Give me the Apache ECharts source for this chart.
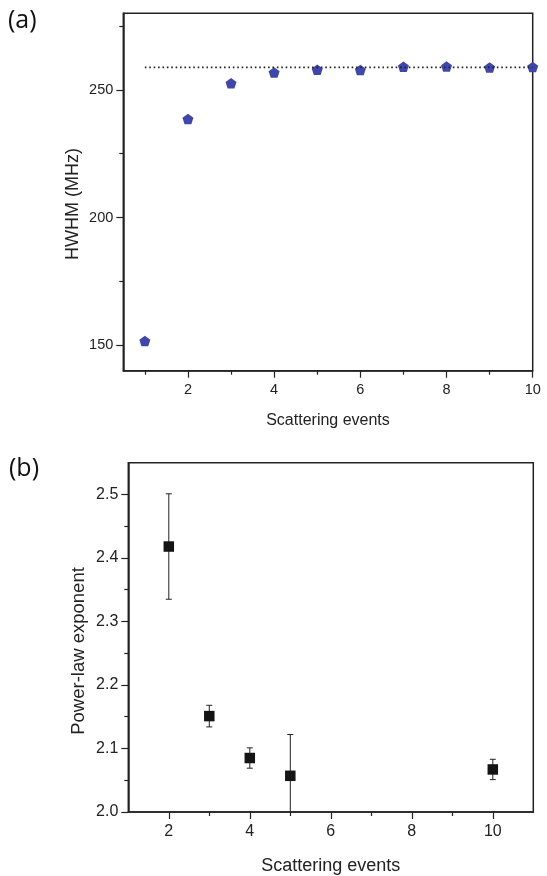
<!DOCTYPE html>
<html>
<head>
<meta charset="utf-8">
<title>HWHM and power-law exponent</title>
<script src="https://cdn.jsdelivr.net/npm/echarts@6/dist/echarts.min.js"></script>
<style>
  html, body { margin: 0; padding: 0; background: #fff; }
  #chart { width: 547px; height: 876px; }
</style>
</head>
<body>
<div id="chart"></div>
<script>
// (a) HWHM vs scattering events
var hwhmX = [1, 2, 3, 4, 5, 6, 7, 8, 9, 10];
var hwhmY = [151.6, 238.6, 252.6, 256.8, 257.9, 257.8, 259.1, 259.2, 258.8, 259.0];
var plateau = 258.8;

// (b) power-law exponent with error bars
var expX = [2, 3, 4, 5, 10];
var expY = [2.418, 2.151, 2.085, 2.057, 2.067];
var expErr = [0.083, 0.017, 0.016, 0.065, 0.016];

// tick values
var topXMajor = [2, 4, 6, 8, 10];
var topXMinor = [1, 3, 5, 7, 9];
var topYMajor = [150, 200, 250];
var topYMinor = [175, 225, 275];
var botXMajor = [2, 4, 6, 8, 10];
var botXMinor = [3, 5, 7, 9];
var botYMajor = [2.0, 2.1, 2.2, 2.3, 2.4, 2.5];
var botYMinor = [2.05, 2.15, 2.25, 2.35, 2.45];

var ink = '#222';
var font = 'Liberation Sans, Arial, sans-serif';
var pentagon = 'path://M0,-1 L0.951,-0.309 L0.588,0.809 L-0.588,0.809 L-0.951,-0.309 Z';

function majorAxis(gridIndex, pos, min, max, ticks, fontSize, margin, fmt) {
    return {
        type: 'value', gridIndex: gridIndex, position: pos, min: min, max: max,
        axisLine: { show: true, onZero: false, lineStyle: { color: ink, width: 1.5 } },
        axisTick: { show: true, customValues: ticks, length: 7, lineStyle: { color: ink, width: 1.2 } },
        axisLabel: { customValues: ticks, color: ink, fontSize: fontSize, fontFamily: font, margin: margin, formatter: fmt },
        splitLine: { show: false }
    };
}
// second axis on the same side, only for the short ticks
function minorAxis(gridIndex, pos, min, max, ticks) {
    return {
        type: 'value', gridIndex: gridIndex, position: pos, offset: 0, min: min, max: max,
        axisLine: { show: false, onZero: false },
        axisTick: { show: true, customValues: ticks, length: 4, lineStyle: { color: ink, width: 1.2 } },
        axisLabel: { show: false },
        splitLine: { show: false }
    };
}

var chart = echarts.init(document.getElementById('chart'));

var xTop = majorAxis(0, 'bottom', 0.5, 10, topXMajor, 14.5, 12);
xTop.name = 'Scattering events';
xTop.nameLocation = 'middle';
xTop.nameGap = 42;
xTop.nameTextStyle = { color: ink, fontSize: 16, fontFamily: font };

var xBot = majorAxis(1, 'bottom', 1, 11, botXMajor, 16, 12);
xBot.name = 'Scattering events';
xBot.nameLocation = 'middle';
xBot.nameGap = 45;
xBot.nameTextStyle = { color: ink, fontSize: 18, fontFamily: font };

chart.setOption({
    animation: false,
    backgroundColor: '#fff',
    grid: [
        { left: 123.3, top: 13.3, width: 409.4, height: 357.4, show: true, borderColor: ink, borderWidth: 1.5 },
        { left: 128.3, top: 462.7, width: 405, height: 350.6, show: true, borderColor: ink, borderWidth: 1.5 }
    ],
    xAxis: [
        xTop,
        minorAxis(0, 'bottom', 0.5, 10, topXMinor),
        xBot,
        minorAxis(1, 'bottom', 1, 11, botXMinor)
    ],
    yAxis: [
        majorAxis(0, 'left', 140, 280, topYMajor, 14.5, 10),
        minorAxis(0, 'left', 140, 280, topYMinor),
        majorAxis(1, 'left', 2.0, 2.55, botYMajor, 16, 10, function (v) { return v.toFixed(1); }),
        minorAxis(1, 'left', 2.0, 2.55, botYMinor)
    ],
    graphic: [
        { type: 'text', left: 8, top: 8, style: { text: '(a)', fontSize: 25, fontFamily: 'Open Sans, sans-serif', fill: '#111' } },
        { type: 'text', left: 9, top: 456, style: { text: '(b)', fontSize: 25, fontFamily: 'Open Sans, sans-serif', fill: '#111' } },
        { type: 'text', x: 73, y: 204, rotation: Math.PI / 2,
          style: { text: 'HWHM (MHz)', fontSize: 18, fontFamily: font, fill: ink, align: 'center', verticalAlign: 'middle' } },
        { type: 'text', x: 79, y: 651, rotation: Math.PI / 2,
          style: { text: 'Power-law exponent', fontSize: 18.5, fontFamily: font, fill: ink, align: 'center', verticalAlign: 'middle' } }
    ],
    series: [
        {
            // dotted plateau guide
            type: 'line', xAxisIndex: 0, yAxisIndex: 0,
            data: [[hwhmX[0], plateau], [hwhmX[hwhmX.length - 1], plateau]],
            symbol: 'none', silent: true,
            lineStyle: { color: '#222', width: 1.6, type: [1.6, 2.8] }
        },
        {
            type: 'scatter', xAxisIndex: 0, yAxisIndex: 0,
            data: hwhmX.map(function (x, i) { return [x, hwhmY[i]]; }),
            symbol: pentagon, symbolSize: [11, 10.5],
            itemStyle: { color: '#3f48a8', opacity: 1 }
        },
        {
            // error bars
            type: 'custom', xAxisIndex: 2, yAxisIndex: 2, clip: true, silent: true,
            data: expX.map(function (x, i) { return [x, expY[i] - expErr[i], expY[i] + expErr[i]]; }),
            renderItem: function (params, api) {
                var lo = api.coord([api.value(0), api.value(1)]);
                var hi = api.coord([api.value(0), api.value(2)]);
                var style = { stroke: ink, lineWidth: 1 };
                return {
                    type: 'group',
                    children: [
                        { type: 'line', shape: { x1: lo[0], y1: lo[1], x2: hi[0], y2: hi[1] }, style: style },
                        { type: 'line', shape: { x1: hi[0] - 3, y1: hi[1], x2: hi[0] + 3, y2: hi[1] }, style: style },
                        { type: 'line', shape: { x1: lo[0] - 3, y1: lo[1], x2: lo[0] + 3, y2: lo[1] }, style: style }
                    ]
                };
            },
            z: 1
        },
        {
            type: 'scatter', xAxisIndex: 2, yAxisIndex: 2,
            data: expX.map(function (x, i) { return [x, expY[i]]; }),
            symbol: 'rect', symbolSize: 10.5,
            itemStyle: { color: '#141414', opacity: 1 },
            z: 3
        }
    ]
});
</script>
</body>
</html>
